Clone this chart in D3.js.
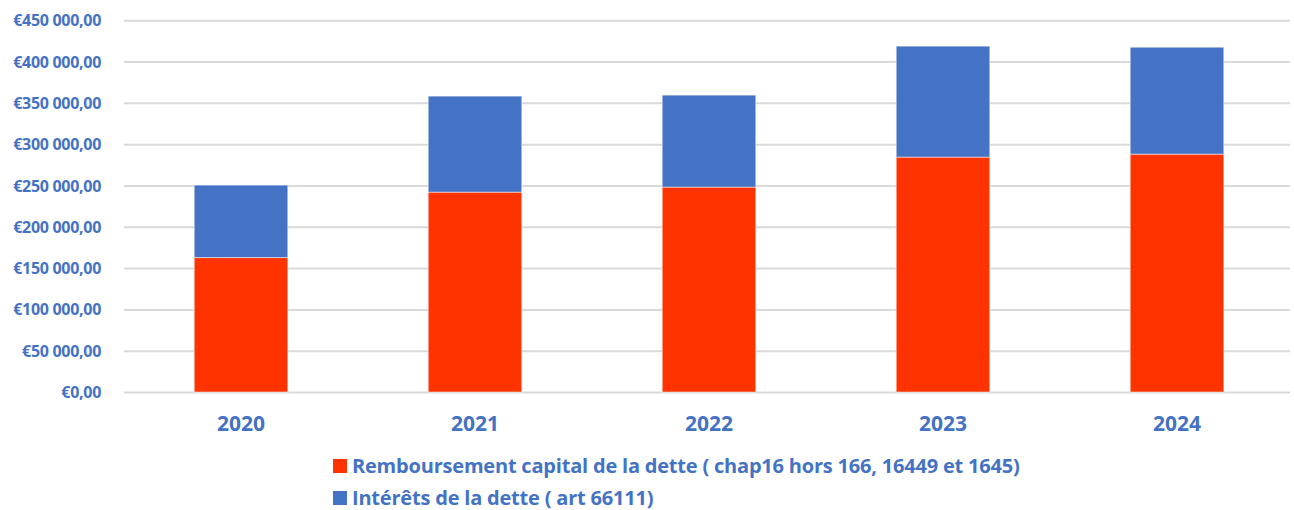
<!DOCTYPE html>
<html><head><meta charset="utf-8">
<script src="https://cdn.jsdelivr.net/npm/d3@7"></script>
<style>
html,body{margin:0;padding:0;background:#fff;}
svg text{font-family:"Open Sans",sans-serif;font-weight:bold;fill:#4472C4;}
</style></head>
<body><svg id="c" width="1294" height="510"></svg>
<script>
const categories = ["2020","2021","2022","2023","2024"];
const capital = [162700, 241900, 248000, 284300, 287900];
const interets = [87700, 116200, 111300, 134300, 129400];
const seriesNames = ["Remboursement capital de la dette ( chap16 hors 166, 16449 et 1645)", "Intérêts de la dette ( art 66111)"];
const seriesColors = ["#FF3300", "#4472C4"];
const yTicks = [0,50000,100000,150000,200000,250000,300000,350000,400000,450000];

const svg = d3.select("#c");
const x = d3.scaleBand().domain(categories).range([124,1294]).paddingInner(0.6).paddingOuter(0.3);
const y = d3.scaleLinear().domain([0,450000]).range([392,20.2]);

function fmt(v){
  const s = Math.round(v).toString().replace(/\B(?=(\d{3})+(?!\d))/g," ");
  return "€" + s + ",00";
}

const gy = svg.append("g")
  .call(d3.axisLeft(y).tickValues(yTicks).tickSize(0).tickFormat(fmt));
gy.select(".domain").remove();
gy.selectAll(".tick line").remove();
gy.selectAll(".tick").append("line").attr("x1",124).attr("x2",1290).attr("stroke","#D9D9D9").attr("stroke-width",2);
gy.selectAll(".tick text").attr("x",101).attr("dy","0.35em").style("font-size","16px").style("letter-spacing","-0.3px").style("text-anchor","end");

const data = categories.map((c,i)=>({c, cap:capital[i], int:interets[i]}));
const stack = d3.stack().keys(["cap","int"])(data);
stack.forEach((layer,li)=>{
  svg.append("g").selectAll("rect").data(layer).join("rect")
    .attr("x",d=>x(d.data.c))
    .attr("width",x.bandwidth())
    .attr("y",d=>y(d[1]))
    .attr("height",d=>y(d[0])-y(d[1]))
    .attr("fill",seriesColors[li])
    .attr("stroke","rgba(255,255,255,0.5)").attr("stroke-width",1);
});

const gx = svg.append("g").attr("transform","translate(0,392)").call(d3.axisBottom(x).tickSize(0));
gx.select(".domain").remove();
gx.selectAll(".tick text").attr("y",32).attr("dy","0.35em").style("font-size","21px");

const lg = svg.append("g");
seriesNames.forEach((n,i)=>{
  const yy = 466 + i*32;
  lg.append("rect").attr("x",333).attr("y",yy-7).attr("width",14).attr("height",14).attr("fill",seriesColors[i]);
  lg.append("text").attr("x",352).attr("y",yy).attr("dy","0.35em").style("font-size","20px").style("letter-spacing","-0.2px").text(n);
});
</script></body></html>
